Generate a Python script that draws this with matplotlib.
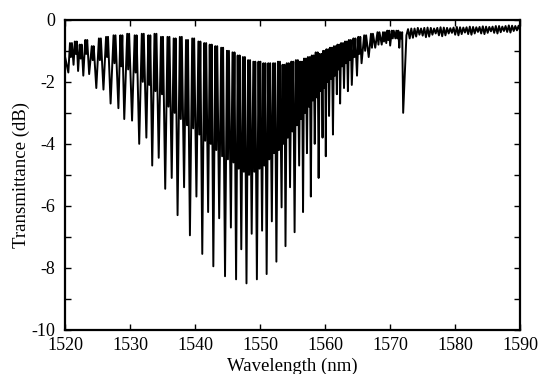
import matplotlib
matplotlib.use("Agg")
import matplotlib.pyplot as plt
from matplotlib.ticker import MultipleLocator

plt.rcParams['font.family'] = ['Liberation Serif', 'DejaVu Serif']
plt.rcParams['axes.unicode_minus'] = False

# ---- data ----
start_wl = 1520.0
start_db = -1.2

# main transmission dips (nm, dB)
dip_wl = [1520.5, 1521.3, 1522.0, 1522.8, 1523.7, 1524.8, 1525.9, 1527.0, 1528.2, 1529.1,
          1530.3, 1531.4, 1532.5, 1533.4, 1534.4, 1535.4, 1536.4, 1537.3, 1538.3, 1539.2,
          1540.2, 1541.1, 1542.0, 1542.8, 1543.7, 1544.6, 1545.5, 1546.3, 1547.1, 1547.9,
          1548.7, 1549.5, 1550.3, 1551.0, 1551.8, 1552.5, 1553.3, 1553.9, 1554.6, 1555.3,
          1556.0, 1556.6, 1557.2, 1557.8, 1558.4, 1559.0, 1559.6, 1560.1, 1560.6, 1561.2,
          1561.8, 1562.3, 1562.9, 1563.5, 1564.1, 1564.9, 1565.6, 1566.7, 1567.7, 1568.7,
          1569.4, 1570.0, 1570.8, 1571.4, 1572.0]
dip_db = [-1.7, -1.45, -1.65, -1.8, -1.75, -2.2, -2.25, -2.7, -2.85, -3.2,
          -3.25, -4.0, -3.8, -4.7, -4.45, -5.45, -5.1, -6.3, -5.4, -6.95,
          -5.7, -7.55, -6.2, -7.95, -6.4, -8.27, -6.7, -8.37, -7.4, -8.5,
          -6.9, -8.37, -6.8, -8.2, -6.5, -7.8, -6.05, -7.3, -5.4, -6.85,
          -4.7, -6.2, -4.3, -5.7, -4.0, -5.1, -3.8, -4.4, -3.1, -3.7,
          -2.4, -2.7, -2.2, -2.3, -2.1, -1.8, -1.4, -1.2, -0.9, -0.8,
          -0.75, -0.83, -0.6, -0.9, -3.0]

# centre of each gap between two main dips, its top level and a shallower side dip
gap_wl = [1520.9, 1521.65, 1522.4, 1523.25, 1524.25, 1525.35, 1526.45, 1527.6, 1528.65, 1529.7,
          1530.85, 1531.95, 1532.95, 1533.9, 1534.9, 1535.9, 1536.85, 1537.8, 1538.75, 1539.7,
          1540.65, 1541.55, 1542.4, 1543.25, 1544.15, 1545.05, 1545.9, 1546.7, 1547.5, 1548.3,
          1549.1, 1549.9, 1550.65, 1551.4, 1552.15, 1552.9, 1553.6, 1554.25, 1554.95, 1555.65,
          1556.3, 1556.9, 1557.5, 1558.1, 1558.7, 1559.3, 1559.85, 1560.35, 1560.9, 1561.5,
          1562.05, 1562.6, 1563.2, 1563.8, 1564.5, 1565.25, 1566.15, 1567.2, 1568.2, 1569.05,
          1569.7, 1570.4, 1571.1, 1571.7]
peak_db = [-0.75, -0.7, -0.8, -0.65, -0.85, -0.6, -0.55, -0.5, -0.5, -0.45,
           -0.5, -0.45, -0.5, -0.45, -0.55, -0.55, -0.6, -0.55, -0.65, -0.6,
           -0.7, -0.75, -0.8, -0.85, -0.9, -1.0, -1.05, -1.15, -1.2, -1.3,
           -1.35, -1.35, -1.4, -1.4, -1.4, -1.35, -1.45, -1.4, -1.35, -1.3,
           -1.35, -1.25, -1.2, -1.15, -1.05, -1.1, -1.0, -0.95, -0.9, -0.85,
           -0.8, -0.75, -0.7, -0.65, -0.6, -0.55, -0.5, -0.45, -0.4, -0.4,
           -0.35, -0.35, -0.35, -0.4]
side_db = [-1.2, -1.1, -1.25, -1.1, -1.3,
           -1.3, -1.2, -1.4, -1.5, -1.6, -1.7, -2.0, -2.1, -2.3, -2.4,
           -2.8, -3.0, -3.2, -3.4, -3.5, -3.7,
           -3.9, -4.0, -4.2, -4.4, -4.5, -4.6, -4.8, -4.9, -5.0, -4.9,
           -4.8, -4.7, -4.5, -4.3, -4.2, -4.0, -3.8, -3.6, -3.4, -3.2,
           -3.0, -2.8, -2.6, -2.5, -2.3, -2.2, -2.0, -1.9, -1.8, -1.6,
           -1.5, -1.4, -1.3, -1.2, -1.1, -1.0, -0.9, -0.8, -0.7, -0.65, -0.6, -0.6, -0.6]
side_half = 0.15  # half width of a side dip, nm

# flat noisy tail after the 1572 nm dip
tail_wl = [1572.5 + 0.25 * i for i in range(71)]
tail_db = [-0.50, -0.30, -0.60, -0.28, -0.58, -0.28, -0.54, -0.26, -0.48, -0.28,
           -0.51, -0.26, -0.56, -0.25, -0.54, -0.26, -0.48, -0.28, -0.44, -0.26,
           -0.50, -0.24, -0.53, -0.25, -0.50, -0.26, -0.44, -0.27, -0.42, -0.25,
           -0.48, -0.23, -0.50, -0.24, -0.46, -0.25, -0.41, -0.24, -0.46, -0.22,
           -0.48, -0.23, -0.44, -0.24, -0.39, -0.23, -0.44, -0.21, -0.46, -0.22,
           -0.42, -0.23, -0.37, -0.22, -0.42, -0.20, -0.44, -0.20, -0.40, -0.22,
           -0.36, -0.20, -0.39, -0.18, -0.41, -0.19, -0.36, -0.20, -0.34, -0.19,
           -0.36]

# assemble trace: start, dip, top, side dip, top, dip ... dip, tail
wl = [start_wl]
tr = [start_db]
for i in range(len(dip_wl)):
    wl.append(dip_wl[i])
    tr.append(dip_db[i])
    if i < len(gap_wl):
        wl += [gap_wl[i] - side_half, gap_wl[i], gap_wl[i] + side_half]
        tr += [peak_db[i], side_db[i], peak_db[i]]
wl += tail_wl
tr += tail_db

# ---- plot ----
fig = plt.figure(figsize=(5.47, 3.74), dpi=100)
ax = fig.add_axes([0.119, 0.118, 0.832, 0.829])

ax.plot(wl, tr, color='black', linewidth=1.4)

ax.set_xlim(1520, 1590)
ax.set_ylim(-10, 0)
ax.xaxis.set_major_locator(MultipleLocator(10))
ax.yaxis.set_major_locator(MultipleLocator(2))
ax.yaxis.set_minor_locator(MultipleLocator(1))
ax.tick_params(which='both', direction='in', top=True, right=True,
               length=4, width=1, labelsize=13)
ax.tick_params(axis='x', pad=5)
ax.tick_params(axis='y', pad=7)
for s in ax.spines.values():
    s.set_linewidth(1.6)

ax.set_xlabel('Wavelength (nm)', fontsize=13.5, labelpad=3)
ax.set_ylabel('Transmittance (dB)', fontsize=13.5, labelpad=1)

fig.savefig('out.png', dpi=100)
